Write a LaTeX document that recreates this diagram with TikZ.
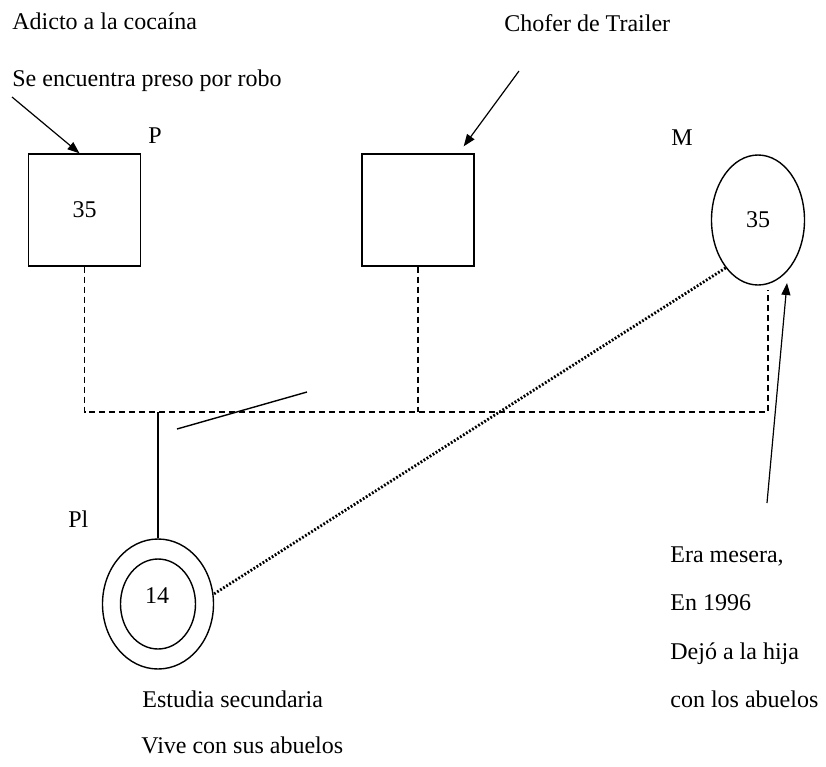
\documentclass[tikz,border=0pt]{standalone}
\usepackage{fontspec}
\setmainfont{Liberation Serif}
\usetikzlibrary{shapes.geometric,arrows.meta}

\begin{document}
\begin{tikzpicture}[x=0.5pt,y=-0.5pt,
        font=\fontsize{12}{14}\selectfont,
        male/.style={draw,line width=0.7pt,rectangle,minimum size=56pt,inner sep=0pt},
        female/.style={draw,line width=0.7pt,ellipse,inner sep=0pt},
        note/.style={anchor=base west,inner sep=0pt},
        rel/.style={dash pattern=on 3pt off 2pt,line width=0.6pt},
        apart/.style={dash pattern=on 0.9pt off 0.9pt,line width=1.4pt},
        pointer/.style={-{Triangle[length=6pt,width=4.5pt]},line width=0.6pt}]
    \useasboundingbox (0,0) rectangle (826,767);

    % personas
    \node[male] (pbox) at (84.5,210) {35};
    \node[male] (cbox) at (418,210) {};
    \node[female,minimum width=46.5pt,minimum height=65pt] (mom) at (758,220) {35};
    \node[female,minimum width=55.5pt,minimum height=65pt] (child) at (158,604) {};
    \node[female,minimum width=37.5pt,minimum height=45pt] (childin) at (158,604) {};
    \node (childage) at (157,596) {14};

    % letras
    \node[note] (plabel) at (148,143) {P};
    \node[note] (mlabel) at (671,145) {M};
    \node[note] (pilabel) at (68,527) {Pl};

    % notas
    \node[note] (pnote1) at (12,29) {Adicto a la cocaína};
    \node[note] (pnote2) at (12,86) {Se encuentra preso por robo};
    \node[note] (cnote) at (504,31) {Chofer de Trailer};
    \node[note] (kidnote1) at (142,707) {Estudia secundaria};
    \node[note] (kidnote2) at (141,753) {Vive con sus abuelos};
    \node[note] (mnote1) at (670,562) {Era mesera,};
    \node[note] (mnote2) at (670,610) {En 1996};
    \node[note] (mnote3) at (670,659) {Dejó a la hija};
    \node[note] (mnote4) at (670,707) {con los abuelos};

    % lineas de relacion
    \coordinate (bar) at (768,412);
    \coordinate (mfoot) at (768,290);
    \draw[rel] (pbox.south) |- (bar) -- (mfoot);
    \draw[rel] (cbox.south) -- (cbox.south |- bar);
    \draw[line width=0.6pt] (child.north) -- (child.north |- bar);
    \draw[line width=0.7pt] (177,429) -- (307,392);
    \draw[apart] (mom.236) -- (child.10);

    % flechas
    \coordinate (ptail) at (12,97);
    \coordinate (ctail) at (519,71);
    \coordinate (mtail) at (767,503);
    \coordinate (mtip) at (787,283);
    \draw[pointer] (ptail) -- ([xshift=-2.5]pbox.north);
    \draw[pointer] (ctail) -- ([shift={(-11,-7)}]cbox.north east);
    \draw[pointer] (mtail) -- (mtip);
\end{tikzpicture}
\end{document}
